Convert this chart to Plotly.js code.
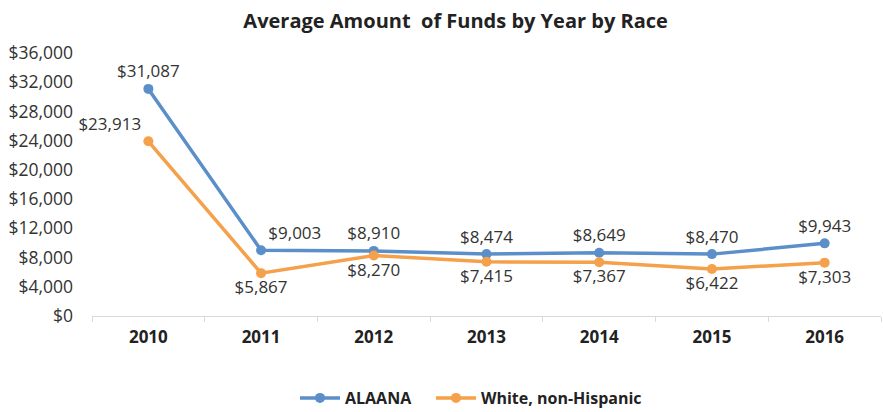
<!DOCTYPE html>
<html>
<head>
<meta charset="utf-8">
<script src="https://cdn.plot.ly/plotly-3.0.1.min.js"></script>
<style>html,body{margin:0;padding:0;background:#fff;}#chart{width:883px;height:412px;}</style>
</head>
<body>
<div id="chart"></div>
<script>
const years = ["2010","2011","2012","2013","2014","2015","2016"];
const alaana = [31087, 9003, 8910, 8474, 8649, 8470, 9943];
const white = [23913, 5867, 8270, 7415, 7367, 6422, 7303];
const alaanaPos = ["top center","top right","top center","top center","top center","top center","top center"];
const whitePos = ["top left","bottom center","bottom center","bottom center","bottom center","bottom center","bottom center"];

const fmt = v => "$" + v.toLocaleString("en-US");
const font = "'Open Sans', sans-serif";

const traces = [
  {x: years, y: alaana, name: "ALAANA", type: "scatter", mode: "lines+markers+text",
   line: {color: "#5b8fca", width: 3.5}, marker: {color: "#5b8fca", size: 10},
   text: alaana.map(fmt), textposition: alaanaPos, legend: "legend",
   textfont: {family: font, size: 17, color: "#333"}, cliponaxis: false},
  {x: years, y: white, name: "White, non-Hispanic", type: "scatter", mode: "lines+markers+text",
   line: {color: "#f5a04a", width: 3.5}, marker: {color: "#f5a04a", size: 10},
   text: white.map(fmt), textposition: whitePos, legend: "legend2",
   textfont: {family: font, size: 17, color: "#333"}, cliponaxis: false}
];

const legendFont = {family: font, size: 16, color: "#222", weight: "bold"};
const layout = {
  width: 883, height: 412,
  margin: {l: 92, r: 2, t: 53, b: 96},
  paper_bgcolor: "#fff", plot_bgcolor: "#fff",
  title: {text: "<b>Average Amount  of Funds by Year by Race</b>", x: 0.516, xanchor: "center", y: 0.95, yanchor: "middle",
          font: {family: font, size: 20, color: "#222"}},
  xaxis: {type: "category", range: [-0.5, 6.5], showgrid: false, zeroline: false,
          showline: true, linecolor: "#d9d9d9", linewidth: 1,
          ticks: "outside", tickson: "boundaries", ticklen: 5, tickcolor: "#d9d9d9",
          tickfont: {family: font, size: 17, color: "#222", weight: "bold"}, ticklabelstandoff: 6},
  yaxis: {range: [0, 36000], dtick: 4000, tickprefix: "$", tickformat: ",d", showgrid: false,
          zeroline: false, showline: false, ticks: "", ticklabelstandoff: 18,
          tickfont: {family: font, size: 17.5, color: "#333"}},
  showlegend: true,
  legend: {orientation: "h", xref: "container", yref: "container", x: 295/883, xanchor: "left",
           y: 1 - 398/412, yanchor: "middle", font: legendFont, itemwidth: 40, bgcolor: "rgba(0,0,0,0)"},
  legend2: {orientation: "h", xref: "container", yref: "container", x: 431/883, xanchor: "left",
           y: 1 - 398/412, yanchor: "middle", font: legendFont, itemwidth: 40, bgcolor: "rgba(0,0,0,0)"},
};

Plotly.newPlot("chart", traces, layout, {displayModeBar: false});
</script>
</body>
</html>
